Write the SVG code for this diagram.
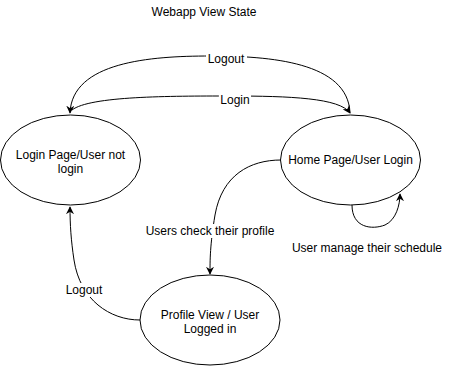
<svg xmlns="http://www.w3.org/2000/svg" width="461" height="366" viewBox="0 0 461 366">
  <style>
    .node ellipse { fill: #ffffff; stroke: #000000; stroke-width: 1; }
    text { font-family: "Liberation Sans", Arial, Helvetica, sans-serif; font-size: 12px; fill: #000000; text-anchor: middle; }
    .edge { fill: none; stroke: #000000; stroke-width: 1; marker-end: url(#arrow); }
    .lbl { fill: #ffffff; }
  </style>
  <defs>
    <marker id="arrow" viewBox="0 0 10 10" refX="9" refY="5" markerWidth="8" markerHeight="8" markerUnits="userSpaceOnUse" orient="auto">
      <path d="M0,0 L10,5 L0,10 L3,5 Z" fill="#000000"/>
    </marker>
  </defs>
  <rect width="461" height="366" fill="#ffffff"/>

  <text x="204" y="16">Webapp View State</text>

  <g id="connectors">
    <!-- Logout: Home -> Login (upper arc) -->
    <path class="edge" d="M350,113 C348,62 270,56 210,56 C150,56 72,62 70,113"/>
    <!-- Login: Login -> Home (lower arc) -->
    <path class="edge" d="M72,110 C90,96 170,96 230,96 C290,96 340,98 350,113"/>
    <!-- self loop on Home -->
    <path class="edge" d="M352,205 C352,228 372,230 385,225 C396,220 400,205 400,194"/>
    <!-- Users check their profile: Home -> Profile -->
    <path class="edge" d="M281,160 C250,160 222,175 215,215 C210,245 210,260 210,274"/>
    <!-- Logout: Profile -> Login -->
    <path class="edge" d="M140,320 C110,320 80,300 74,260 C71,240 70,225 70,207"/>
    <rect class="lbl" x="206" y="51" width="41" height="14"/>
    <text x="226" y="63">Logout</text>
    <rect class="lbl" x="219" y="93" width="32" height="14"/>
    <text x="235" y="104">Login</text>
    <rect class="lbl" x="145" y="224" width="130" height="14"/>
    <text x="210" y="235">Users check their profile</text>
    <rect class="lbl" x="63" y="283" width="41" height="14"/>
    <text x="84" y="294">Logout</text>
  </g>

  <g id="login-page" class="node">
    <ellipse cx="70.5" cy="160" rx="70" ry="45"/>
    <text x="70.5" y="159">Login Page/User not</text>
    <text x="70.5" y="173">login</text>
  </g>

  <g id="home-page" class="node">
    <ellipse cx="350.5" cy="160" rx="70" ry="45"/>
    <text x="350.5" y="164">Home Page/User Login</text>
  </g>

  <g id="profile-view" class="node">
    <ellipse cx="210" cy="320" rx="70" ry="45"/>
    <text x="210" y="319">Profile View / User</text>
    <text x="210" y="333">Logged in</text>
  </g>

  <text x="367" y="252">User manage their schedule</text>
</svg>
